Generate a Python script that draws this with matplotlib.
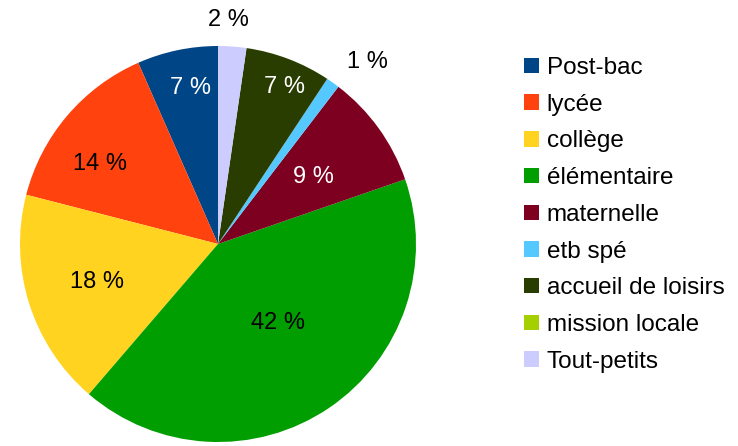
import matplotlib.pyplot as plt
import numpy as np
from matplotlib.patches import Patch

# region data
categories = ["Post-bac", "lycée", "collège", "élémentaire", "maternelle",
              "etb spé", "accueil de loisirs", "mission locale", "Tout-petits"]
shares = [6.6, 14.4, 17.7, 41.6, 9.3, 1.1, 7.0, 0.0, 2.3]  # percent
# endregion

# region style
colors = ["#004586", "#ff420e", "#ffd320", "#009e00", "#7e0021",
          "#55c8ff", "#2a3d00", "#a6cf00", "#ccccff"]
label_radius = [0.80, 0.72, 0.64, 0.50, 0.59, 1.19, 0.86, 1.0, 1.13]
label_shift = [-2, 6, 0, 3, -1, -4, -2, 0, 1.5]  # degrees, nudges the label angle
label_color = ["white", "black", "black", "black", "white",
               "black", "white", "black", "black"]
# endregion

plt.rcParams['font.family'] = ['Liberation Sans', 'DejaVu Sans']

fig = plt.figure(figsize=(7.38, 4.46), dpi=100)
R = 198  # pie radius in pixels
cx, cy = 218, 244  # pie centre in pixels (from top-left)
ax = fig.add_axes([(cx - R) / 738, (446 - cy - R) / 446, 2 * R / 738, 2 * R / 446])

wedges, _ = ax.pie(shares, colors=colors, startangle=90, counterclock=True,
                   radius=1, wedgeprops=dict(linewidth=0))
ax.set_xlim(-1, 1)
ax.set_ylim(-1, 1)

# percentage labels
for w, val, r, d, c in zip(wedges, shares, label_radius, label_shift, label_color):
    if round(val) == 0:
        continue
    mid = np.deg2rad((w.theta1 + w.theta2) / 2 + d)
    ax.text(r * np.cos(mid), r * np.sin(mid), "{0:.0f} %".format(val),
            ha='center', va='center', fontsize=17, color=c)

handles = [Patch(facecolor=col, edgecolor='none') for col in colors]
fig.legend(handles, categories, loc='upper left',
           bbox_to_anchor=(524 / 738, 1 - 57 / 446), frameon=False,
           fontsize=17.5, handlelength=0.6, handleheight=0.6,
           handletextpad=0.33, labelspacing=0.605, borderpad=0,
           borderaxespad=0)

fig.savefig("out.png", dpi=100)
